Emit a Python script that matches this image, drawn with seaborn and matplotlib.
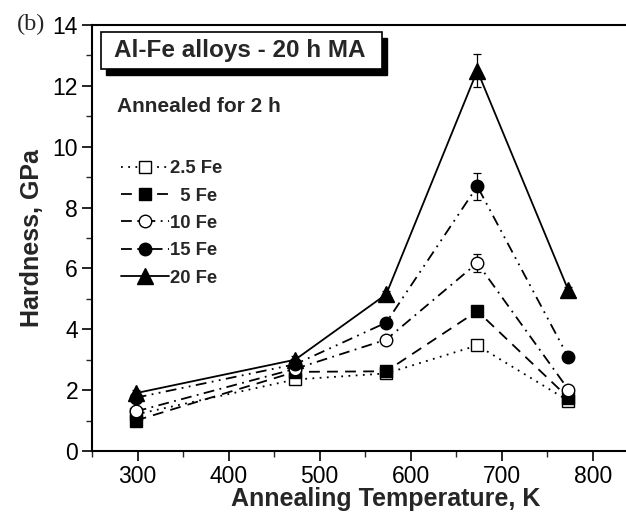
import numpy as np
import pandas as pd
import matplotlib
matplotlib.use("Agg")
import matplotlib.pyplot as plt
from matplotlib.patches import Rectangle
from matplotlib.ticker import MultipleLocator
import seaborn as sns

temps = [298, 473, 573, 673, 773]
series = ["2.5 Fe", "5 Fe", "10 Fe", "15 Fe", "20 Fe"]
h_25 = [1.20, 2.35, 2.55, 3.47, 1.65]
h_5 = [1.00, 2.60, 2.62, 4.60, 1.75]
h_10 = [1.30, 2.70, 3.66, 6.18, 2.02]
h_15 = [1.75, 2.85, 4.22, 8.70, 3.08]
h_20 = [1.90, 3.00, 5.15, 12.50, 5.28]
err_25 = [0.08, 0.08, 0.08, 0.10, 0.08]
err_5 = [0.08, 0.08, 0.08, 0.12, 0.08]
err_10 = [0.10, 0.10, 0.10, 0.30, 0.10]
err_15 = [0.10, 0.10, 0.10, 0.45, 0.10]
err_20 = [0.12, 0.12, 0.12, 0.55, 0.10]

values = [h_25, h_5, h_10, h_15, h_20]
errors = [err_25, err_5, err_10, err_15, err_20]
markers = ["s", "s", "o", "o", "^"]
faces = ["white", "black", "white", "black", "black"]
dashes = [(1, 3), (6, 4), (6, 3, 1, 3), (6, 3, 1, 3, 1, 3), ""]
labels = ["2.5 Fe", "  5 Fe", "10 Fe", "15 Fe", "20 Fe"]

df = pd.DataFrame({
    "T": temps * len(series),
    "H": sum(values, []),
    "alloy": sum([[s] * len(temps) for s in series], []),
})

sns.set_style("white")
plt.rcParams["font.family"] = ["Liberation Sans", "DejaVu Sans"]

fig = plt.figure(figsize=(6.26, 5.21), dpi=100)
ax = fig.add_axes([92 / 626, 1 - 451 / 521, 1 - 92 / 626 + 0.02, (451 - 25) / 521])

for i, s in enumerate(series):
    sub = df[df["alloy"] == s]
    sns.lineplot(data=sub, x="T", y="H", ax=ax, color="black", lw=1.3,
                 marker=markers[i], markersize=9 if markers[i] != "^" else 11,
                 markerfacecolor=faces[i], markeredgecolor="black", markeredgewidth=1.0,
                 dashes=False, label=labels[i], zorder=3 + i)
    line = ax.get_lines()[-1]
    if dashes[i]:
        line.set_dashes(dashes[i])
    ax.errorbar(temps, values[i], yerr=errors[i], fmt="none", ecolor="black",
                elinewidth=0.9, capsize=3, capthick=0.9, zorder=2)

ax.set_xlim(250, 850)
ax.set_ylim(0, 14)
ax.xaxis.set_major_locator(MultipleLocator(100))
ax.xaxis.set_minor_locator(MultipleLocator(50))
ax.yaxis.set_major_locator(MultipleLocator(2))
ax.yaxis.set_minor_locator(MultipleLocator(1))
ax.tick_params(axis="both", which="major", direction="out", length=7, width=1.2,
               labelsize=16.5, colors="black", left=True, bottom=True, pad=3)
ax.tick_params(axis="both", which="minor", direction="out", length=4, width=1.0,
               left=True, bottom=True)
for sp in ["left", "bottom", "top"]:
    ax.spines[sp].set_color("black")
    ax.spines[sp].set_linewidth(1.5)
ax.spines["right"].set_visible(False)

ax.set_xlabel("Annealing Temperature, K", fontsize=18, fontweight="bold", labelpad=0)
ax.xaxis.set_label_coords((385 - 92) / (638 - 92), -0.085)
ax.set_ylabel("Hardness, GPa", fontsize=18, fontweight="bold", labelpad=6)

leg = ax.legend(loc="upper left", bbox_to_anchor=(0.04, 0.70), frameon=False,
                prop={"weight": "bold", "size": 13.3}, handlelength=2.6,
                handletextpad=0.05, labelspacing=0.56, borderaxespad=0)

# Title box with shadow
fig.patches.append(Rectangle((106 / 626, 1 - 75 / 521), (382 - 101) / 626, (69 - 32) / 521,
                             transform=fig.transFigure, facecolor="black", edgecolor="black",
                             zorder=5))
fig.patches.append(Rectangle((101 / 626, 1 - 69 / 521), (382 - 101) / 626, (69 - 32) / 521,
                             transform=fig.transFigure, facecolor="white", edgecolor="black",
                             lw=1.2, zorder=6))
fig.text(240 / 626, 1 - 51 / 521, "Al-Fe alloys - 20 h MA", fontsize=17.5, fontweight="bold",
         ha="center", va="center", zorder=7)
fig.text(117 / 626, 1 - 107 / 521, "Annealed for 2 h", fontsize=15, fontweight="bold",
         ha="left", va="center")
fig.text(17 / 626, 1 - 24 / 521, "(b)", fontsize=17.5, family="Liberation Serif",
         ha="left", va="center")

fig.savefig("out.png", dpi=100)
